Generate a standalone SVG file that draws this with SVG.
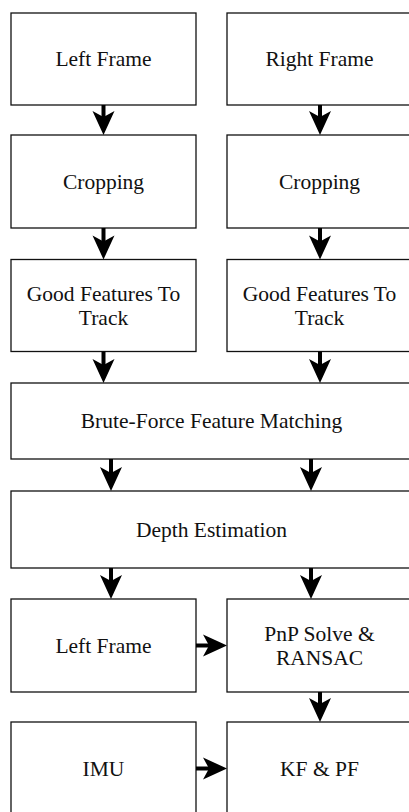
<svg xmlns="http://www.w3.org/2000/svg" width="409" height="812" viewBox="0 0 409 812">
<style>
.box{fill:#fff;stroke:#111;stroke-width:1.3}
.c{fill:none;stroke:#000;stroke-width:4;marker-end:url(#ah)}
</style>
<defs>
<marker id="ah" markerUnits="userSpaceOnUse" viewBox="-26 -12 27 24" markerWidth="27" markerHeight="24" refX="-16" refY="0" orient="auto">
<path d="M0,0 L-24,-11 L-18,0 L-24,11 Z" fill="#000"/>
</marker>
</defs>
<rect width="409" height="812" fill="#fff"/>
<g font-family="Liberation Serif, Times New Roman, serif" font-size="21.5" fill="#111" text-anchor="middle">
<g id="n1"><rect class="box" x="11" y="13" width="185" height="92"/><text x="103.5" y="66">Left Frame</text></g>
<g id="n2"><rect class="box" x="227" y="13" width="185" height="92"/><text x="319.5" y="66">Right Frame</text></g>
<g id="n3"><rect class="box" x="11" y="135" width="185" height="93"/><text x="103.5" y="188.5">Cropping</text></g>
<g id="n4"><rect class="box" x="227" y="135" width="185" height="93"/><text x="319.5" y="188.5">Cropping</text></g>
<g id="n5"><rect class="box" x="11" y="259.5" width="185" height="92"/><text x="103.5" y="300.5">Good Features To</text><text x="103.5" y="324.5">Track</text></g>
<g id="n6"><rect class="box" x="227" y="259.5" width="185" height="92"/><text x="319.5" y="300.5">Good Features To</text><text x="319.5" y="324.5">Track</text></g>
<g id="n7"><rect class="box" x="11" y="383" width="401" height="76"/><text x="211.5" y="428">Brute-Force Feature Matching</text></g>
<g id="n8"><rect class="box" x="11" y="491" width="401" height="77"/><text x="211.5" y="536.5">Depth Estimation</text></g>
<g id="n9"><rect class="box" x="11" y="599" width="185" height="93"/><text x="103.5" y="652.5">Left Frame</text></g>
<g id="n10"><rect class="box" x="227" y="599" width="185" height="93"/><text x="319.5" y="640.5">PnP Solve &amp;</text><text x="319.5" y="664.5">RANSAC</text></g>
<g id="n11"><rect class="box" x="11" y="722" width="185" height="93"/><text x="103.5" y="775.5">IMU</text></g>
<g id="n12"><rect class="box" x="227" y="722" width="185" height="93"/><text x="319.5" y="775.5">KF &amp; PF</text></g>
</g>
<g id="connectors">
<path class="c" d="M103.5,105 V119"/>
<path class="c" d="M320,105 V119"/>
<path class="c" d="M103.5,228 V243.5"/>
<path class="c" d="M320,228 V243.5"/>
<path class="c" d="M103.5,351.5 V367"/>
<path class="c" d="M320,351.5 V367"/>
<path class="c" d="M111,459 V475"/>
<path class="c" d="M311,459 V475"/>
<path class="c" d="M111,568 V583"/>
<path class="c" d="M311,568 V583"/>
<path class="c" d="M320,692 V706"/>
<path class="c" d="M196,645.5 H211"/>
<path class="c" d="M196,768.5 H211"/>
</g>
</svg>
